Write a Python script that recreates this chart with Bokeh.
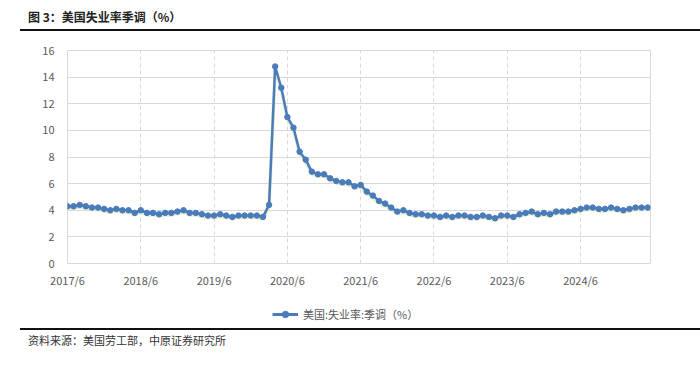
from bokeh.plotting import figure
from bokeh.models import (Range1d, FixedTicker, Legend, LegendItem, Div)
from bokeh.layouts import column
from bokeh.embed import file_html
from bokeh.resources import INLINE

# ---------------- data ----------------
start_year, start_month = 2017, 6
n_months = 96
month_labels = []
y_, m_ = start_year, start_month
for _ in range(n_months):
    month_labels.append(f"{y_}/{m_}")
    m_ += 1
    if m_ > 12:
        m_ = 1
        y_ += 1

unemployment_rate = [
    4.3, 4.3, 4.4, 4.3, 4.2, 4.2, 4.1,                      # 2017/6-12
    4.0, 4.1, 4.0, 4.0, 3.8, 4.0, 3.8, 3.8, 3.7, 3.8, 3.8, 3.9,  # 2018
    4.0, 3.8, 3.8, 3.7, 3.6, 3.6, 3.7, 3.6, 3.5, 3.6, 3.6, 3.6,  # 2019
    3.6, 3.5, 4.4, 14.8, 13.2, 11.0, 10.2, 8.4, 7.8, 6.9, 6.7, 6.7,  # 2020
    6.4, 6.2, 6.1, 6.1, 5.8, 5.9, 5.4, 5.1, 4.7, 4.5, 4.2, 3.9,  # 2021
    4.0, 3.8, 3.7, 3.7, 3.6, 3.6, 3.5, 3.6, 3.5, 3.6, 3.6, 3.5,  # 2022
    3.5, 3.6, 3.5, 3.4, 3.6, 3.6, 3.5, 3.7, 3.8, 3.9, 3.7, 3.8,  # 2023
    3.7, 3.9, 3.9, 3.9, 4.0, 4.1, 4.2, 4.2, 4.1, 4.1, 4.2, 4.1,  # 2024
    4.0, 4.1, 4.2, 4.2, 4.2,                                # 2025/1-5
]
x_index = list(range(n_months))
tick_positions = [i for i in x_index if i % 12 == 0]
tick_labels = {i: month_labels[i] for i in tick_positions}
y_ticks = [0, 2, 4, 6, 8, 10, 12, 14, 16]

title_text = "图 3：美国失业率季调（%）"
legend_text = "美国:失业率:季调（%）"
source_text = "资料来源：美国劳工部，中原证券研究所"

FONT = "Noto Sans CJK SC"
LINE_COLOR = "#4a7bba"
GRID = "#d9d9d9"
LABEL = "#595959"

# ---------------- main figure ----------------
p = figure(width=692, height=264, output_backend="svg", toolbar_location=None,
           x_range=Range1d(0, 95.45), y_range=Range1d(0, 16),
           min_border_left=67, min_border_right=42, min_border_top=19,
           min_border_bottom=32)
p.outline_line_color = GRID
p.outline_line_width = 1
p.background_fill_color = "white"
p.border_fill_color = "white"

p.xaxis.ticker = FixedTicker(ticks=tick_positions)
p.xaxis.major_label_overrides = tick_labels
p.yaxis.ticker = FixedTicker(ticks=y_ticks)
for ax in (p.xaxis, p.yaxis):
    ax.axis_line_color = None
    ax.major_tick_line_color = None
    ax.minor_tick_line_color = None
    ax.major_label_text_color = LABEL
    ax.major_label_text_font = FONT
    ax.major_label_text_font_size = "11px"
p.xaxis.major_label_standoff = 2
p.yaxis.major_label_standoff = 7

p.ygrid.grid_line_color = GRID
p.ygrid.grid_line_width = 1
p.xgrid.grid_line_color = GRID
p.xgrid.grid_line_dash = "4 3"
p.xgrid.grid_line_width = 1

# faint glow below the line
glow_vals = [v - 0.15 for v in unemployment_rate]
p.line(x_index, glow_vals, line_color="#dfeabf", line_width=3.5, line_alpha=0.8)

p.line(x_index, unemployment_rate, line_color=LINE_COLOR, line_width=2.5)
p.scatter(x_index, unemployment_rate, size=5.5, marker="circle",
          fill_color=LINE_COLOR, line_color=LINE_COLOR)

# ---------------- legend strip ----------------
# same series, ranges chosen so that only the legend is visible in this strip
pl = figure(width=692, height=33, output_backend="svg", toolbar_location=None,
            x_axis_type=None, y_axis_type=None, min_border=0,
            x_range=Range1d(0, 1), y_range=Range1d(100, 101))
pl.outline_line_color = None
pl.xgrid.visible = False
pl.ygrid.visible = False
lr_line = pl.line(x_index, unemployment_rate, line_color=LINE_COLOR, line_width=3)
lr_pts = pl.scatter(x_index, unemployment_rate, size=6, marker="circle",
                    fill_color=LINE_COLOR, line_color=LINE_COLOR)
legend = Legend(items=[LegendItem(label=legend_text, renderers=[lr_line, lr_pts])],
                location=(205, 6), orientation="horizontal",
                label_text_font=FONT, label_text_font_size="11px",
                label_text_color=LABEL, glyph_width=26, glyph_height=16,
                label_standoff=5, padding=0, margin=0,
                border_line_color=None, background_fill_alpha=0)
pl.add_layout(legend, "center")

title_div = Div(text=title_text, width=672, height=22, margin=(0, 0, 0, 20),
                styles={"font-family": FONT, "font-size": "12px", "font-weight": "bold",
                        "color": "#222222", "padding-left": "8px", "padding-top": "7px",
                        "line-height": "20px",
                        "border-bottom": "2px solid #111111", "box-sizing": "content-box"})
source_div = Div(text=source_text, width=672, height=20, margin=(0, 0, 0, 20),
                 styles={"font-family": FONT, "font-size": "11px",
                         "color": "#333333", "padding-left": "8px", "line-height": "20px",
                         "border-top": "2px solid #111111", "box-sizing": "content-box"})

layout = column(title_div, p, pl, source_div, spacing=0)

with open("out.html", "w") as f:
    f.write(file_html(layout, INLINE))
